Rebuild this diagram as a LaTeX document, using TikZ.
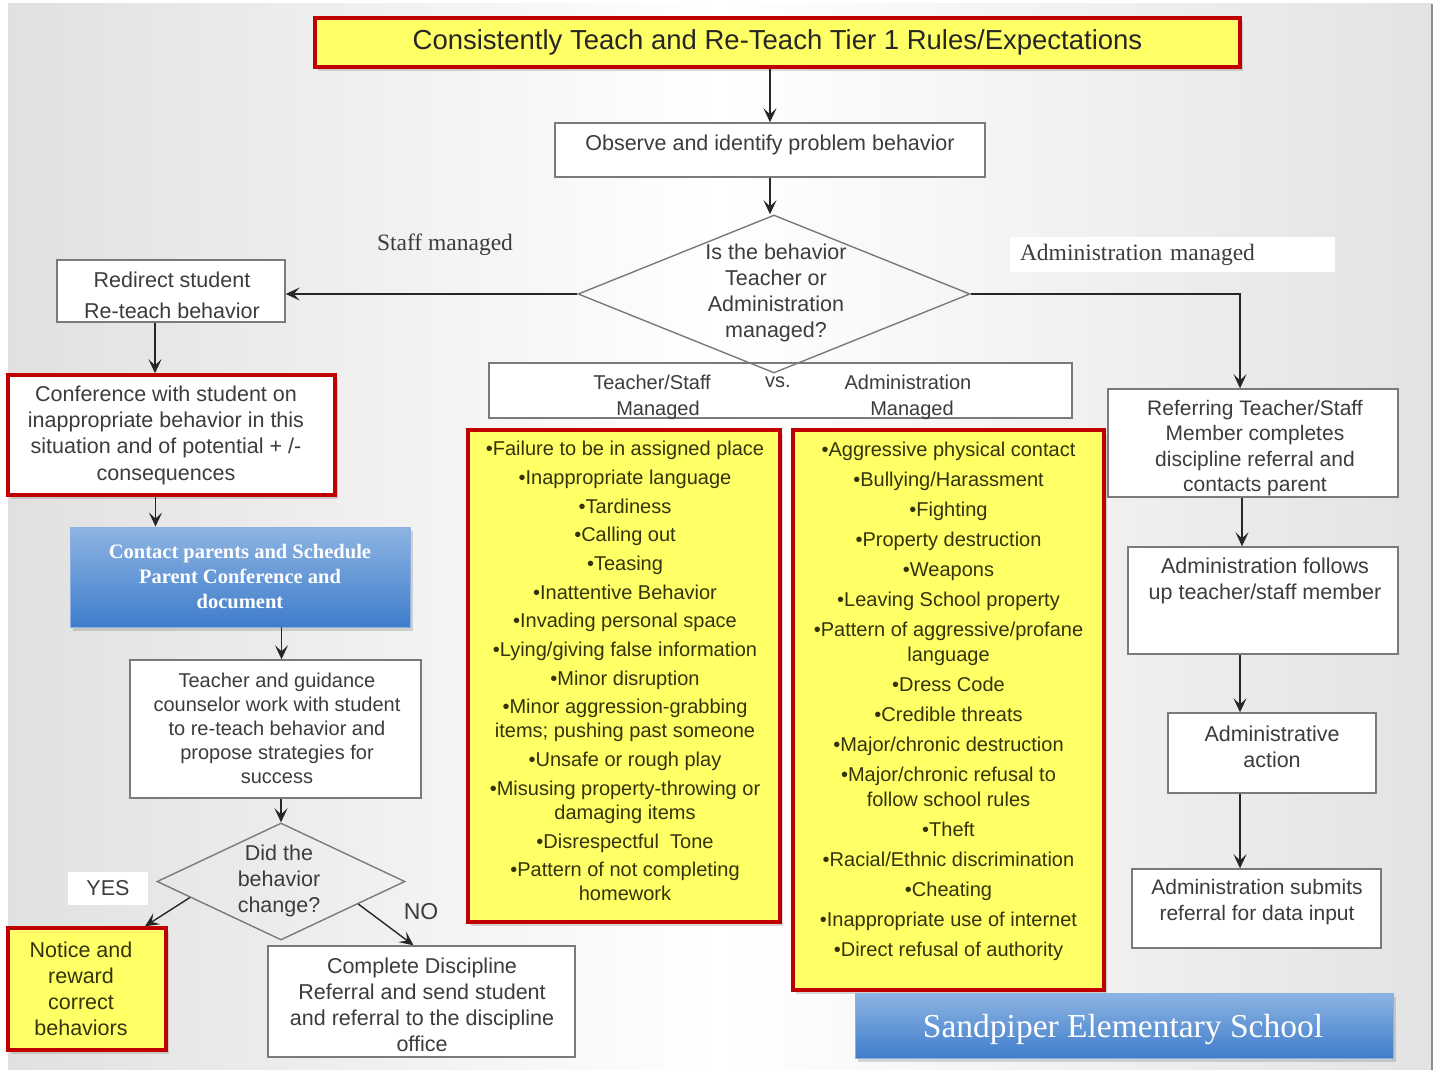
\documentclass[tikz,border=0pt]{standalone}
\usepackage{fontspec}
\setmainfont{Liberation Sans}
\newfontfamily\seriffont{Liberation Serif}
\usetikzlibrary{arrows.meta,shapes.geometric,shadows,calc}
\newcommand\myfs[2]{\fontsize{#1}{#2}\selectfont}
\definecolor{bxgray}{HTML}{7A7A7A}
\definecolor{txtgray}{HTML}{3C3C3C}
\definecolor{ylw}{HTML}{FFFF66}
\definecolor{redb}{HTML}{C00000}
\definecolor{bluetop}{HTML}{8DB4E2}
\definecolor{bluebot}{HTML}{3F7DCB}
\definecolor{olivetxt}{HTML}{34340C}
\begin{document}
\begin{tikzpicture}[x=1pt,y=-1pt,
  box/.style={draw=bxgray,line width=1.4pt,fill=white,inner sep=0pt},
  txt/.style={inner sep=0pt,align=center,text=txtgray,font=\myfs{21.5}{26}},
  redbox/.style={draw=redb,line width=3.5pt,inner sep=0pt,align=center,
    drop shadow={shadow xshift=3pt,shadow yshift=-4pt,opacity=0.3}},
  bluebox/.style={top color=bluetop,bottom color=bluebot,draw=bluebot!60!white,line width=0.8pt,
    inner sep=0pt,align=center,text=white,
    drop shadow={shadow xshift=3pt,shadow yshift=-4pt,opacity=0.3}},
  dia/.style={diamond,draw=bxgray,line width=1.4pt,inner sep=0pt},
  arr/.style={draw=black!85,line width=1.4pt,-{Stealth[length=14pt,width=13pt,inset=6pt]}}
]
\useasboundingbox (0,0) rectangle (1442,1070);
% slide background
\fill[white] (0,0) rectangle (1442,1070);
\shade[left color=black!12,right color=black!11,middle color=white] (8,4) rectangle (1432,1070);
\draw[black!45,line width=2.5pt] (1432,4) -- (1432,1070);

% title
\node[redbox,fill=ylw,minimum width=925,minimum height=49,font=\myfs{27.5}{30},text=black!85] (title) at (777.5,42.5)
  {Consistently Teach and Re-Teach Tier 1 Rules/Expectations};

% observe
\node[box,minimum width=430,minimum height=54] (obs) at (770,150) {};
\node[txt] (obst) at (770,145) {Observe and identify problem behavior};

% vs box
\node[box,minimum width=583,minimum height=55] (vs) at (780.5,390.5) {};
\node[txt,font=\myfs{20}{24}] (vs1) at (652,382) {Teacher/Staff};
\node[txt,font=\myfs{20}{24}] (vs2) at (778,382) {vs.};
\node[txt,font=\myfs{20}{24}] (vs3) at (908,382) {Administration};
\node[txt,font=\myfs{20}{24}] (vs4) at (658,410) {Managed};
\node[txt,font=\myfs{20}{24}] (vs5) at (912,410) {Managed};

% main decision
\node[dia,minimum width=392,minimum height=158] (q1) at (774,294) {};
\node[txt] (q1t) at (776,293) {Is the behavior\\Teacher or\\Administration\\managed?};

% labels
\node[txt,font=\seriffont\myfs{23.5}{26}] (staff) at (445,245) {Staff managed};
\node[fill=white,inner sep=0pt,minimum width=325,minimum height=35,text width=305,align=left,
  text=txtgray,font=\seriffont\myfs{23.5}{26}] (adml) at (1172.5,254.5) {Administration managed};

% left column
\node[box,minimum width=228,minimum height=62] (red) at (171,291) {};
\node[txt] (red1) at (172,280) {Redirect student};
\node[txt] (red2) at (172,311) {Re-teach behavior};

\node[redbox,fill=white,minimum width=327,minimum height=120] (conf) at (171.5,435) {};
\node[txt,font=\myfs{21.5}{26.3}] (conft) at (166,435)
  {Conference with student on\\inappropriate behavior in this\\situation and of potential + /-\\consequences};

\node[bluebox,minimum width=340,minimum height=100,font=\seriffont\bfseries\myfs{20.5}{25}] (cont) at (240,577)
  {Contact parents and Schedule\\Parent Conference and\\document};

\node[box,minimum width=291,minimum height=138] (teach) at (275.5,729) {};
\node[txt,font=\myfs{20}{24}] (teacht) at (277,728)
  {Teacher and guidance\\counselor work with student\\to re-teach behavior and\\propose strategies for\\success};

\node[dia,minimum width=248,minimum height=117] (q2) at (281,881.5) {};
\node[txt] (q2t) at (279,881) {Did the\\behavior\\change?};

\node[fill=white,inner sep=0pt,minimum width=80,minimum height=33,text=txtgray,font=\myfs{21.5}{26}] (yes) at (108,888.5) {YES};
\node[txt,font=\myfs{23}{26}] (no) at (421,912) {NO};

\node[redbox,fill=ylw,minimum width=158,minimum height=122] (notice) at (87,989) {};
\node[txt,text=olivetxt] (noticet) at (81,989) {Notice and\\reward\\correct\\behaviors};

\node[box,minimum width=307,minimum height=111] (comp) at (421.5,1001.5) {};
\node[txt] (compt) at (422,1005)
  {Complete Discipline\\Referral and send student\\and referral to the discipline\\office};

% lists
\node[redbox,fill=ylw,minimum width=312,minimum height=492] (tlist) at (624,676) {};
\node[txt,text=olivetxt,font=\myfs{20}{24}] (tlistt) at (625,671)
  {•Failure to be in assigned place\\[4.7pt]
   •Inappropriate language\\[4.7pt]
   •Tardiness\\[4.7pt]
   •Calling out\\[4.7pt]
   •Teasing\\[4.7pt]
   •Inattentive Behavior\\[4.7pt]
   •Invading personal space\\[4.7pt]
   •Lying/giving false information\\[4.7pt]
   •Minor disruption\\[4.7pt]
   •Minor aggression-grabbing\\
   items; pushing past someone\\[4.7pt]
   •Unsafe or rough play\\[4.7pt]
   •Misusing property-throwing or\\
   damaging items\\[4.7pt]
   •Disrespectful\ \ Tone\\[4.7pt]
   •Pattern of not completing\\
   homework};

\node[redbox,fill=ylw,minimum width=311,minimum height=560] (alist) at (948.5,710) {};
\node[txt,text=olivetxt,font=\myfs{20}{25}] (alistt) at (948.5,701)
  {•Aggressive physical contact\\[5pt]
   •Bullying/Harassment\\[5pt]
   •Fighting\\[5pt]
   •Property destruction\\[5pt]
   •Weapons\\[5pt]
   •Leaving School property\\[5pt]
   •Pattern of aggressive/profane\\
   language\\[5pt]
   •Dress Code\\[5pt]
   •Credible threats\\[5pt]
   •Major/chronic destruction\\[5pt]
   •Major/chronic refusal to\\
   follow school rules\\[5pt]
   •Theft\\[5pt]
   •Racial/Ethnic discrimination\\[5pt]
   •Cheating\\[5pt]
   •Inappropriate use of internet\\[5pt]
   •Direct refusal of authority};

% right column
\node[box,minimum width=290,minimum height=108] (ref) at (1253,443) {};
\node[txt,font=\myfs{21}{25.3}] (reft) at (1255,448)
  {Referring Teacher/Staff\\Member completes\\discipline referral and\\contacts parent};

\node[box,minimum width=270,minimum height=107] (fol) at (1263,600.5) {};
\node[txt] (folt) at (1265,581) {Administration follows\\up teacher/staff member};

\node[box,minimum width=208,minimum height=80] (act) at (1272,753) {};
\node[txt] (actt) at (1272,747) {Administrative\\action};

\node[box,minimum width=249,minimum height=79] (sub) at (1256.5,908.5) {};
\node[txt,font=\myfs{21}{26}] (subt) at (1257,902) {Administration submits\\referral for data input};

\node[bluebox,minimum width=538,minimum height=65] (sand) at (1124,1025.5) {};
\node[txt,text=white,font=\seriffont\myfs{33.5}{36}] (sandt) at (1123,1029) {Sandpiper Elementary School};

% connectors
\draw[arr] (obs.north |- title.south) -- (obs.north);
\draw[arr] (obs.south) -- (obs.south |- q1.north);
\draw[arr] (q1.west) -- (q1.west -| red.east);
\draw[arr] (q1.east) -| ([xshift=-13pt]ref.north);
\draw[arr] ([xshift=-16pt]red.south) -- ([xshift=-16pt]red.south |- conf.north);
\draw[arr] ([xshift=-16pt]conf.south) -- ([xshift=-16pt]conf.south |- cont.north);
\draw[arr] ([xshift=6pt]teach.north |- cont.south) -- ([xshift=6pt]teach.north);
\draw[arr] (q2.north |- teach.south) -- (q2.north);
\draw[arr] ($(q2.west)!0.27!(q2.south)$) -- ([xshift=58pt]notice.north);
\draw[arr] ($(q2.south)!0.62!(q2.east)$) -- ([xshift=-8pt]comp.north);
\draw[arr] ([xshift=-11pt]ref.south) -- ([xshift=-11pt]ref.south |- fol.north);
\draw[arr] ([xshift=-23pt]fol.south) -- ([xshift=-23pt]fol.south |- act.north);
\draw[arr] ([xshift=-32pt]act.south) -- ([xshift=-32pt]act.south |- sub.north);
\end{tikzpicture}
\end{document}
